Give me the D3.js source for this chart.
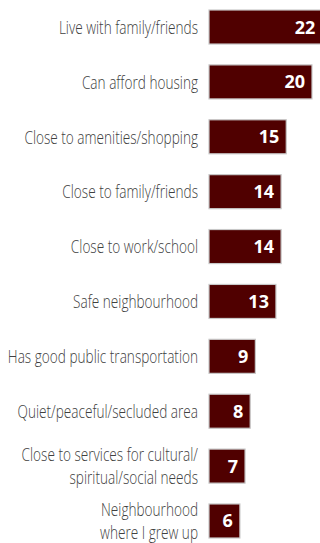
<!DOCTYPE html>
<html>
<head>
<meta charset="utf-8">
<script src="https://cdn.jsdelivr.net/npm/d3@7"></script>
<style>
  html, body { margin: 0; padding: 0; background: #ffffff; }
  svg { display: block; }
</style>
</head>
<body>
<div id="chart"></div>
<script>
// Reasons for choosing current home (%)
const categories = [
  ["Live with family/friends"],
  ["Can afford housing"],
  ["Close to amenities/shopping"],
  ["Close to family/friends"],
  ["Close to work/school"],
  ["Safe neighbourhood"],
  ["Has good public transportation"],
  ["Quiet/peaceful/secluded area"],
  ["Close to services for cultural/", "spiritual/social needs"],
  ["Neighbourhood", "where I grew up"]
];
const values = [22, 20, 15, 14, 14, 13, 9, 8, 7, 6];

const width = 320, height = 543;
const labelFont = "'Open Sans', 'Noto Sans', sans-serif";
const valueFont = "'Open Sans', 'Noto Sans', sans-serif";
const labelRight = 198;      // right edge of category labels
// drawn widths used to set the horizontal squeeze of the labels
const fitShort = { text: categories[0][0], width: 143 };
const fitLong = { text: categories[6][0], width: 185 };

const svg = d3.select("#chart").append("svg")
  .attr("width", width)
  .attr("height", height);

const keys = categories.map(c => c.join(" "));

const y = d3.scaleBand()
  .domain(keys)
  .range([10, 538])
  .paddingInner(0.38)
  .paddingOuter(0);

const x = d3.scaleLinear()
  .domain([0, 22])
  .range([209, 322.3]);

const rows = svg.selectAll("g.row")
  .data(values.map((v, i) => ({ key: keys[i], lines: categories[i], value: v })))
  .join("g")
  .attr("class", "row");

rows.append("rect")
  .attr("x", x(0))
  .attr("y", d => y(d.key))
  .attr("width", d => x(d.value) - x(0))
  .attr("height", y.bandwidth())
  .attr("fill", "#500000")
  .attr("stroke", "#c8c8c8")
  .attr("stroke-width", 1.2);

rows.append("text")
  .attr("x", d => x(d.value) - 7)
  .attr("y", d => y(d.key) + y.bandwidth() / 2 + 6.5)
  .attr("text-anchor", "end")
  .attr("fill", "#ffffff")
  .attr("font-family", valueFont)
  .attr("font-weight", 700)
  .attr("font-size", 18)
  .text(d => d.value);

// Condensed category labels: a light face squeezed horizontally
const labelSize = 18.5;
function measure(s) {
  const t = svg.append("text")
    .attr("font-family", labelFont)
    .attr("font-weight", 300)
    .attr("font-size", labelSize)
    .text(s);
  const w = t.node().getComputedTextLength();
  t.remove();
  return w;
}
const squeeze = (fitShort.width / measure(fitShort.text) +
                 fitLong.width / measure(fitLong.text)) / 2;

const lineGap = 23;
rows.append("text")
  .attr("text-anchor", "end")
  .attr("fill", "#404040")
  .attr("font-family", labelFont)
  .attr("font-weight", 300)
  .attr("font-size", labelSize)
  .attr("transform", `translate(${labelRight},0) scale(${squeeze},1)`)
  .each(function(d) {
    const cy = y(d.key) + y.bandwidth() / 2 + 6.8;
    const n = d.lines.length;
    d3.select(this).selectAll("tspan")
      .data(d.lines)
      .join("tspan")
      .attr("x", 0)
      .attr("y", (t, j) => cy + (j - (n - 1) / 2) * lineGap)
      .text(t => t);
  });
</script>
</body>
</html>
